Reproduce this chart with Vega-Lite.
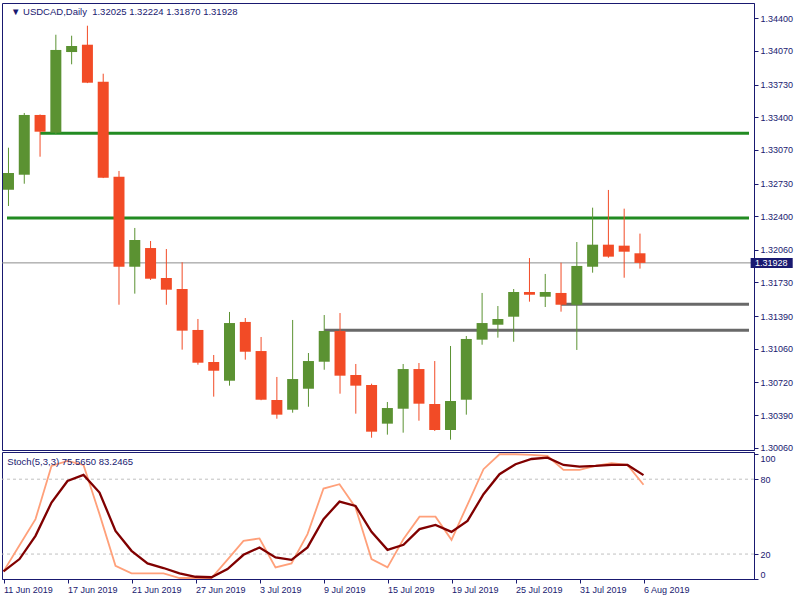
{
  "$schema": "https://vega.github.io/schema/vega-lite/v6.json",
  "padding": {"left": -2, "top": 2, "right": 0, "bottom": 0},
  "background": "white",
  "spacing": 2,
  "bounds": "flush",
  "config": {
    "font": "Liberation Sans",
    "view": {"stroke": "#191970", "strokeWidth": 1},
    "axis": {"labelFont": "Liberation Sans", "labelFontSize": 9, "labelColor": "#191970", "tickColor": "#191970", "domainColor": "#191970", "grid": false}
  },
  "datasets": {
    "bars": [
      {"i":0,"date":"2019-06-11","o":1.32668,"h":1.33092,"l":1.32503,"c":1.32836,"k":6.1,"d":6.1},
      {"i":1,"date":"2019-06-12","o":1.32819,"h":1.33443,"l":1.32728,"c":1.33423,"k":27,"d":16},
      {"i":2,"date":"2019-06-13","o":1.33423,"h":1.33428,"l":1.33001,"c":1.33254,"k":48,"d":34.6},
      {"i":3,"date":"2019-06-14","o":1.33244,"h":1.34234,"l":1.33228,"c":1.3408,"k":90.6,"d":61.3},
      {"i":4,"date":"2019-06-17","o":1.34059,"h":1.34224,"l":1.33935,"c":1.3412,"k":94.6,"d":78.6},
      {"i":5,"date":"2019-06-18","o":1.34133,"h":1.34325,"l":1.33745,"c":1.33749,"k":91.4,"d":83.4},
      {"i":6,"date":"2019-06-19","o":1.33759,"h":1.3384,"l":1.32785,"c":1.32789,"k":52,"d":69.3},
      {"i":7,"date":"2019-06-20","o":1.32799,"h":1.32857,"l":1.31505,"c":1.31889,"k":10.6,"d":38.6},
      {"i":8,"date":"2019-06-21","o":1.31889,"h":1.32281,"l":1.31617,"c":1.32159,"k":4.5,"d":22.6},
      {"i":9,"date":"2019-06-24","o":1.32078,"h":1.32149,"l":1.31755,"c":1.31768,"k":4.5,"d":12.5},
      {"i":10,"date":"2019-06-25","o":1.31775,"h":1.32068,"l":1.31505,"c":1.31657,"k":4.5,"d":8.8},
      {"i":11,"date":"2019-06-26","o":1.31664,"h":1.31934,"l":1.31051,"c":1.31243,"k":0.8,"d":4.5},
      {"i":12,"date":"2019-06-27","o":1.3125,"h":1.31361,"l":1.30899,"c":1.30919,"k":0.8,"d":1.8},
      {"i":13,"date":"2019-06-28","o":1.30926,"h":1.30997,"l":1.30576,"c":1.30838,"k":0.8,"d":1.4},
      {"i":14,"date":"2019-07-01","o":1.30737,"h":1.31432,"l":1.30687,"c":1.3132,"k":15.5,"d":8},
      {"i":15,"date":"2019-07-02","o":1.31331,"h":1.31371,"l":1.3095,"c":1.3103,"k":30.6,"d":19.4},
      {"i":16,"date":"2019-07-03","o":1.31037,"h":1.31179,"l":1.3054,"c":1.30545,"k":32.5,"d":25.3},
      {"i":17,"date":"2019-07-04","o":1.30542,"h":1.30775,"l":1.30353,"c":1.30394,"k":9.3,"d":17.3},
      {"i":18,"date":"2019-07-05","o":1.30444,"h":1.31351,"l":1.30414,"c":1.30754,"k":12.5,"d":15.4},
      {"i":19,"date":"2019-07-08","o":1.30656,"h":1.31017,"l":1.30474,"c":1.30936,"k":36,"d":25.3},
      {"i":20,"date":"2019-07-09","o":1.30929,"h":1.31401,"l":1.30848,"c":1.3124,"k":72.5,"d":48},
      {"i":21,"date":"2019-07-10","o":1.3124,"h":1.31421,"l":1.30606,"c":1.30788,"k":76,"d":62},
      {"i":22,"date":"2019-07-11","o":1.30795,"h":1.30906,"l":1.30404,"c":1.30687,"k":57.3,"d":58.6},
      {"i":23,"date":"2019-07-12","o":1.30694,"h":1.30707,"l":1.30161,"c":1.30222,"k":16,"d":37.8},
      {"i":24,"date":"2019-07-15","o":1.30303,"h":1.30522,"l":1.30192,"c":1.30461,"k":9.3,"d":23.4},
      {"i":25,"date":"2019-07-16","o":1.30454,"h":1.30906,"l":1.30212,"c":1.30855,"k":32,"d":27.4},
      {"i":26,"date":"2019-07-17","o":1.30855,"h":1.30916,"l":1.30333,"c":1.30505,"k":50,"d":40},
      {"i":27,"date":"2019-07-18","o":1.30502,"h":1.30936,"l":1.30229,"c":1.30239,"k":50,"d":43.4},
      {"i":28,"date":"2019-07-19","o":1.30239,"h":1.31088,"l":1.30141,"c":1.30532,"k":31.4,"d":37.8},
      {"i":29,"date":"2019-07-22","o":1.30545,"h":1.31189,"l":1.30394,"c":1.31159,"k":59.7,"d":46.6},
      {"i":30,"date":"2019-07-23","o":1.31152,"h":1.31624,"l":1.31101,"c":1.3132,"k":88,"d":68},
      {"i":31,"date":"2019-07-24","o":1.31303,"h":1.31492,"l":1.31172,"c":1.31361,"k":100,"d":84},
      {"i":32,"date":"2019-07-25","o":1.31384,"h":1.31664,"l":1.31131,"c":1.31634,"k":100,"d":92},
      {"i":33,"date":"2019-07-26","o":1.31634,"h":1.31977,"l":1.31536,"c":1.31606,"k":99.5,"d":96.2},
      {"i":34,"date":"2019-07-29","o":1.31586,"h":1.31816,"l":1.31482,"c":1.31634,"k":98.6,"d":97.3},
      {"i":35,"date":"2019-07-30","o":1.31624,"h":1.3193,"l":1.31435,"c":1.31505,"k":87.4,"d":91.4},
      {"i":36,"date":"2019-07-31","o":1.31505,"h":1.32139,"l":1.31048,"c":1.31897,"k":87.4,"d":90.1},
      {"i":37,"date":"2019-08-01","o":1.31889,"h":1.32486,"l":1.31829,"c":1.32112,"k":90.6,"d":90.6},
      {"i":38,"date":"2019-08-02","o":1.32112,"h":1.32665,"l":1.3198,"c":1.31991,"k":92.8,"d":91.4},
      {"i":39,"date":"2019-08-05","o":1.32102,"h":1.32476,"l":1.31778,"c":1.32041,"k":91.4,"d":91.4},
      {"i":40,"date":"2019-08-06","o":1.32025,"h":1.32224,"l":1.3187,"c":1.31928,"k":75.565,"d":83.2465}
    ],
    "levels": [
      {"start": 2, "price": 1.33238, "kind": "green"},
      {"start": -0.094, "price": 1.32382, "kind": "green"},
      {"start": 20, "price": 1.31247, "kind": "gray"},
      {"start": 35, "price": 1.31509, "kind": "gray"}
    ]
  },
  "vconcat": [
    {
      "width": 752,
      "height": 447,
      "layer": [
        {
          "data": {"values": [{"price": 1.31928}]},
          "mark": {"type": "rule", "color": "#8c8c8c", "strokeWidth": 1},
          "encoding": {
            "y": {"field": "price", "type": "quantitative",
              "scale": {"domain": [1.300368, 1.345546], "zero": false, "nice": false},
              "axis": {"orient": "right", "title": null, "format": ".5f", "values": [1.344, 1.3407, 1.3373, 1.334, 1.3307, 1.3273, 1.324, 1.3206, 1.3173, 1.3139, 1.3106, 1.3072, 1.3039, 1.3006], "tickSize": 4, "labelPadding": 2, "labelOverlap": false, "labelBound": false, "labelFlush": false}}
          }
        },
        {
          "data": {"name": "levels"},
          "mark": {"type": "rule", "strokeWidth": 3, "strokeCap": "butt"},
          "encoding": {
            "x": {"field": "start", "type": "quantitative", "scale": {"domain": [-0.094, 46.906], "zero": false, "nice": false}, "axis": null},
            "x2": {"datum": 46.906},
            "y": {"field": "price", "type": "quantitative",
              "axis": {"orient": "right", "title": null, "format": ".5f", "values": [1.344, 1.3407, 1.3373, 1.334, 1.3307, 1.3273, 1.324, 1.3206, 1.3173, 1.3139, 1.3106, 1.3072, 1.3039, 1.3006], "tickSize": 4, "labelPadding": 2, "labelOverlap": false, "labelBound": false, "labelFlush": false}},
            "color": {"condition": {"test": "datum.kind === 'green'", "value": "#228b22"}, "value": "#696969"}
          }
        },
        {
          "data": {"name": "bars"},
          "mark": {"type": "rule", "strokeWidth": 1, "clip": true},
          "encoding": {
            "x": {"field": "i", "type": "quantitative", "axis": null},
            "y": {"field": "l", "type": "quantitative",
              "axis": {"orient": "right", "title": null, "format": ".5f", "values": [1.344, 1.3407, 1.3373, 1.334, 1.3307, 1.3273, 1.324, 1.3206, 1.3173, 1.3139, 1.3106, 1.3072, 1.3039, 1.3006], "tickSize": 4, "labelPadding": 2, "labelOverlap": false, "labelBound": false, "labelFlush": false}},
            "y2": {"field": "h"},
            "color": {"condition": {"test": "datum.c >= datum.o", "value": "#5b9232"}, "value": "#f24b26"}
          }
        },
        {
          "data": {"name": "bars"},
          "mark": {"type": "bar", "size": 11, "clip": true},
          "encoding": {
            "x": {"field": "i", "type": "quantitative", "axis": null},
            "y": {"field": "o", "type": "quantitative",
              "axis": {"orient": "right", "title": null, "format": ".5f", "values": [1.344, 1.3407, 1.3373, 1.334, 1.3307, 1.3273, 1.324, 1.3206, 1.3173, 1.3139, 1.3106, 1.3072, 1.3039, 1.3006], "tickSize": 4, "labelPadding": 2, "labelOverlap": false, "labelBound": false, "labelFlush": false}},
            "y2": {"field": "c"},
            "color": {"condition": {"test": "datum.c >= datum.o", "value": "#5b9232"}, "value": "#f24b26"}
          }
        },
        {
          "data": {"values": [{"label": "1.31928"}]},
          "mark": {"type": "rule", "strokeWidth": 10, "strokeCap": "butt", "color": "#191970"},
          "encoding": {
            "x": {"datum": 47.01, "axis": null},
            "x2": {"datum": 49.675},
            "y": {"datum": 1.31927,
              "axis": {"orient": "right", "title": null, "format": ".5f", "values": [1.344, 1.3407, 1.3373, 1.334, 1.3307, 1.3273, 1.324, 1.3206, 1.3173, 1.3139, 1.3106, 1.3072, 1.3039, 1.3006], "tickSize": 4, "labelPadding": 2, "labelOverlap": false, "labelBound": false, "labelFlush": false}}
          }
        },
        {
          "data": {"values": [{"label": "1.31928"}]},
          "mark": {"type": "text", "align": "left", "baseline": "middle", "fontSize": 9, "color": "white", "font": "Liberation Sans"},
          "encoding": {
            "x": {"datum": 47.28, "axis": null},
            "y": {"datum": 1.31928,
              "axis": {"orient": "right", "title": null, "format": ".5f", "values": [1.344, 1.3407, 1.3373, 1.334, 1.3307, 1.3273, 1.324, 1.3206, 1.3173, 1.3139, 1.3106, 1.3072, 1.3039, 1.3006], "tickSize": 4, "labelPadding": 2, "labelOverlap": false, "labelBound": false, "labelFlush": false}},
            "text": {"field": "label"}
          }
        },
        {
          "data": {"values": [{"label": "▼ USDCAD,Daily\u00a0 1.32025 1.32224 1.31870 1.31928"}]},
          "mark": {"type": "text", "align": "left", "baseline": "middle", "fontSize": 9.5, "color": "#191970", "font": "Liberation Sans"},
          "encoding": {
            "x": {"datum": 0.16, "axis": null},
            "y": {"datum": 1.34464,
              "axis": {"orient": "right", "title": null, "format": ".5f", "values": [1.344, 1.3407, 1.3373, 1.334, 1.3307, 1.3273, 1.324, 1.3206, 1.3173, 1.3139, 1.3106, 1.3072, 1.3039, 1.3006], "tickSize": 4, "labelPadding": 2, "labelOverlap": false, "labelBound": false, "labelFlush": false}},
            "text": {"field": "label"}
          }
        }
      ]
    },
    {
      "width": 752,
      "height": 127,
      "layer": [
        {
          "data": {"values": [{"lvl": 20}, {"lvl": 80}]},
          "mark": {"type": "rule", "color": "#c0c0c0", "strokeWidth": 1, "strokeDash": [3, 3]},
          "encoding": {
            "y": {"field": "lvl", "type": "quantitative",
              "scale": {"domain": [0, 101.8], "nice": false, "zero": false},
              "axis": {"orient": "right", "title": null, "values": [0, 20, 80, 100], "tickSize": 4, "labelPadding": 2, "labelOverlap": false, "labelFlush": false, "labelBaseline": {"condition": [{"test": "datum.value === 100", "value": "top"}, {"test": "datum.value === 0", "value": "bottom"}], "value": "middle"}}}
          }
        },
        {
          "data": {"name": "bars"},
          "mark": {"type": "line", "color": "#ffa07a", "strokeWidth": 1.8},
          "encoding": {
            "x": {"field": "i", "type": "quantitative",
              "scale": {"domain": [-0.094, 46.906], "zero": false, "nice": false},
              "axis": {"orient": "bottom", "title": null, "values": [0, 4, 8, 12, 16, 20, 24, 28, 32, 36, 40], "labelExpr": "['11 Jun 2019','17 Jun 2019','21 Jun 2019','27 Jun 2019','3 Jul 2019','9 Jul 2019','15 Jul 2019','19 Jul 2019','25 Jul 2019','31 Jul 2019','6 Aug 2019'][datum.value / 4]", "labelAlign": "left", "tickSize": 4, "labelPadding": 2, "labelOverlap": false, "labelFlush": false, "labelBound": false}},
            "y": {"field": "k", "type": "quantitative",
              "axis": {"orient": "right", "title": null, "values": [0, 20, 80, 100], "tickSize": 4, "labelPadding": 2, "labelOverlap": false, "labelFlush": false, "labelBaseline": {"condition": [{"test": "datum.value === 100", "value": "top"}, {"test": "datum.value === 0", "value": "bottom"}], "value": "middle"}}}
          }
        },
        {
          "data": {"name": "bars"},
          "mark": {"type": "line", "color": "#800000", "strokeWidth": 2.3},
          "encoding": {
            "x": {"field": "i", "type": "quantitative",
              "axis": {"orient": "bottom", "title": null, "values": [0, 4, 8, 12, 16, 20, 24, 28, 32, 36, 40], "labelExpr": "['11 Jun 2019','17 Jun 2019','21 Jun 2019','27 Jun 2019','3 Jul 2019','9 Jul 2019','15 Jul 2019','19 Jul 2019','25 Jul 2019','31 Jul 2019','6 Aug 2019'][datum.value / 4]", "labelAlign": "left", "tickSize": 4, "labelPadding": 2, "labelOverlap": false, "labelFlush": false, "labelBound": false}},
            "y": {"field": "d", "type": "quantitative",
              "axis": {"orient": "right", "title": null, "values": [0, 20, 80, 100], "tickSize": 4, "labelPadding": 2, "labelOverlap": false, "labelFlush": false, "labelBaseline": {"condition": [{"test": "datum.value === 100", "value": "top"}, {"test": "datum.value === 0", "value": "bottom"}], "value": "middle"}}}
          }
        },
        {
          "data": {"values": [{"label": "Stoch(5,3,3) 75.5650 83.2465"}]},
          "mark": {"type": "text", "align": "left", "baseline": "middle", "fontSize": 9.5, "color": "#191970", "font": "Liberation Sans"},
          "encoding": {
            "x": {"datum": 0.24,
              "axis": {"orient": "bottom", "title": null, "values": [0, 4, 8, 12, 16, 20, 24, 28, 32, 36, 40], "labelExpr": "['11 Jun 2019','17 Jun 2019','21 Jun 2019','27 Jun 2019','3 Jul 2019','9 Jul 2019','15 Jul 2019','19 Jul 2019','25 Jul 2019','31 Jul 2019','6 Aug 2019'][datum.value / 4]", "labelAlign": "left", "tickSize": 4, "labelPadding": 2, "labelOverlap": false, "labelFlush": false, "labelBound": false}},
            "y": {"datum": 94,
              "axis": {"orient": "right", "title": null, "values": [0, 20, 80, 100], "tickSize": 4, "labelPadding": 2, "labelOverlap": false, "labelFlush": false, "labelBaseline": {"condition": [{"test": "datum.value === 100", "value": "top"}, {"test": "datum.value === 0", "value": "bottom"}], "value": "middle"}}},
            "text": {"field": "label"}
          }
        }
      ]
    }
  ]
}
